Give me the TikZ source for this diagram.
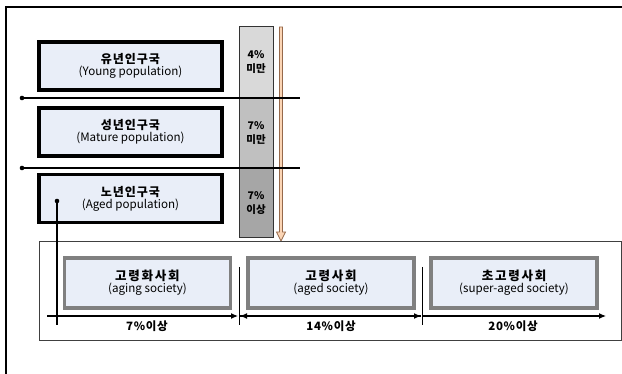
\documentclass[tikz,border=0pt]{standalone}
\usepackage{fontspec}
\setmainfont{Noto Sans CJK KR}
\usetikzlibrary{arrows.meta}
\definecolor{boxfill}{RGB}{233,238,248}
\definecolor{gA}{RGB}{217,217,217}
\definecolor{gB}{RGB}{192,192,192}
\definecolor{gC}{RGB}{166,166,166}
\definecolor{gbord}{RGB}{128,128,128}
\definecolor{arrfill}{RGB}{251,213,181}
\definecolor{arrbord}{RGB}{150,105,75}
\newcommand{\krt}[1]{{\bfseries\fontsize{12}{14}\selectfont\addfontfeature{LetterSpace=8}#1}}
\newcommand{\krb}[1]{{\bfseries\fontsize{12.5}{14}\selectfont\addfontfeature{LetterSpace=14}#1}}
\newcommand{\ent}[1]{{\fontsize{11.6}{14}\selectfont #1}}
\begin{document}
\begin{tikzpicture}[x=1pt,y=-1pt,
  popbox/.style={draw=black,line width=3.2pt,fill=boxfill,minimum width=183pt,minimum height=48pt,inner sep=0pt,align=center},
  socbox/.style={draw=gbord,line width=3.2pt,fill=boxfill,minimum width=166pt,minimum height=50pt,inner sep=0pt,align=center},
  colseg/.style={draw=black!80,line width=1pt,minimum width=34pt,inner sep=0pt,align=center,font=\bfseries\fontsize{10.5}{14}\selectfont},
  axis/.style={line width=1.1pt,-{Latex[length=7pt,width=6pt]}},
  sep/.style={line width=1pt},
  dotline/.style={line width=1.2pt},
  lbl/.style={font=\bfseries\fontsize{11.5}{13}\selectfont\addfontfeature{LetterSpace=6}}
]
\useasboundingbox (0,0) rectangle (622,374);
\fill[white] (0,0) rectangle (622,374);
% outer frame (top and left)
\draw[line width=1.4pt] (6,374) -- (6,7) -- (622,7);

% grey column
\node[colseg,fill=gA,minimum height=71pt] (c1) at (256,62.5) {4\%\\미만};
\node[colseg,fill=gB,minimum height=70pt] (c2) at (256,133) {7\%\\미만};
\node[colseg,fill=gC,minimum height=70pt] (c3) at (256,203) {7\%\\이상};

% orange hollow arrow
\draw[arrbord,fill=arrfill,line width=0.8pt] (279.5,27) -- (282.5,27) -- (282.5,232) -- (285.5,232) -- (281,241) -- (276.5,232) -- (279.5,232) -- cycle;

% horizontal separators
\coordinate (h1a) at (22,98); \coordinate (h1b) at (300,98);
\coordinate (h2a) at (22,168); \coordinate (h2b) at (300,168);
\draw[dotline] (h1a) -- (h1b);
\draw[dotline] (h2a) -- (h2b);
\fill (h1a) circle (2.3pt);
\fill (h2a) circle (2.3pt);

% population boxes
\node[popbox] (young) at (130.5,66) {\krt{유년인구국}\\\ent{(Young population)}};
\node[popbox] (mature) at (130.5,132) {\krt{성년인구국}\\\ent{(Mature population)}};
\node[popbox] (aged) at (130.5,198.5) {\krt{노년인구국}\\\ent{(Aged population)}};

% bottom frame
\draw[black!75,line width=1pt] (39,242) rectangle (621,341);

% connector from aged box
\coordinate (dot) at (57,201);
\coordinate (dotend) at (57,325);
\draw[dotline] (dot) -- (dotend);
\fill (dot) circle (2.3pt);

% society boxes
\node[socbox] (s1) at (147.5,283) {\krb{고령화사회}\\\ent{(aging society)}};
\node[socbox] (s2) at (331,283) {\krb{고령사회}\\\ent{(aged society)}};
\node[socbox] (s3) at (514,283) {\krb{초고령사회}\\\ent{(super-aged society)}};

% axis
\coordinate (a0) at (47,316);
\coordinate (a1) at (238,316);
\coordinate (a2) at (240,316);
\coordinate (a3) at (421,316);
\coordinate (a4) at (423,316);
\coordinate (a5) at (606,316);
\draw[axis] (a0) -- (a1);
\draw[axis] (a3) -- (a2);
\draw[axis] (a2) -- (a3);
\draw[axis] (a4) -- (a5);
\coordinate (v1a) at (239,267); \coordinate (v1b) at (239,325);
\coordinate (v2a) at (422,267); \coordinate (v2b) at (422,325);
\draw[sep] (v1a) -- (v1b);
\draw[sep] (v2a) -- (v2b);

\node[lbl] (l1) at (147,326) {7\%이상};
\node[lbl] (l2) at (331,326) {14\%이상};
\node[lbl] (l3) at (513,326) {20\%이상};
\end{tikzpicture}
\end{document}
